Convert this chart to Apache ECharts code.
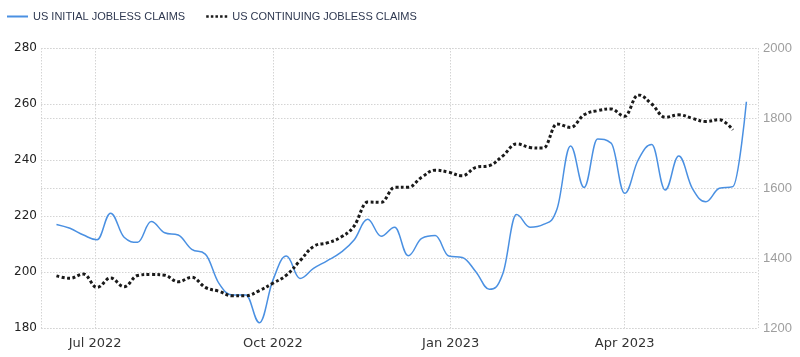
<!DOCTYPE html>
<html>
<head>
<meta charset="utf-8">
<script src="https://cdn.jsdelivr.net/npm/echarts@6/dist/echarts.min.js"></script>
<style>
html,body{margin:0;padding:0;background:#fff;}
#chart{width:800px;height:357px;}
</style>
</head>
<body>
<div id="chart"></div>
<script>
const weeks = [
  '2022-06-11','2022-06-18','2022-06-25','2022-07-02','2022-07-09','2022-07-16','2022-07-23','2022-07-30',
  '2022-08-06','2022-08-13','2022-08-20','2022-08-27','2022-09-03','2022-09-10','2022-09-17','2022-09-24',
  '2022-10-01','2022-10-08','2022-10-15','2022-10-22','2022-10-29','2022-11-05','2022-11-12','2022-11-19',
  '2022-11-26','2022-12-03','2022-12-10','2022-12-17','2022-12-24','2022-12-31','2023-01-07','2023-01-14',
  '2023-01-21','2023-01-28','2023-02-04','2023-02-11','2023-02-18','2023-02-25','2023-03-04','2023-03-11',
  '2023-03-18','2023-03-25','2023-04-01','2023-04-08','2023-04-15','2023-04-22','2023-04-29','2023-05-06',
  '2023-05-13','2023-05-20','2023-05-27','2023-06-03'
];
const initialClaims = [
  217.0, 215.6, 213.2, 211.5, 221.0, 212.4, 210.6, 218.0,
  214.0, 213.2, 208.1, 206.4, 196.0, 191.8, 191.8, 181.9,
  197.1, 205.7, 197.7, 201.3, 204.0, 206.9, 211.4, 218.8,
  212.8, 216.0, 205.8, 212.0, 213.0, 205.7, 205.2, 200.1,
  193.8, 199.5, 220.5, 216.0, 217.0, 222.5, 245.0, 230.2,
  247.5, 246.0, 228.1, 240.0, 245.5, 229.3, 241.4, 229.9,
  225.1, 229.9, 230.5, 260.8
];
const continuingClaims = [
  1349, 1342, 1354, 1316, 1343, 1318, 1350, 1353,
  1351, 1332, 1345, 1316, 1305, 1292, 1292, 1307,
  1328, 1351, 1392, 1433, 1443, 1459, 1491, 1560,
  1559, 1602, 1602, 1631, 1651, 1645, 1635, 1659,
  1664, 1692, 1726, 1716, 1714, 1783, 1773, 1809,
  1821, 1826, 1805, 1866, 1840, 1802, 1809, 1799,
  1790, 1795, 1766
];
const seriesNames = ['US INITIAL JOBLESS CLAIMS', 'US CONTINUING JOBLESS CLAIMS'];
const monthNames = ['Jan','Feb','Mar','Apr','May','Jun','Jul','Aug','Sep','Oct','Nov','Dec'];
const xMin = '2022-06-03';
const xMax = '2023-06-09';

const times = weeks.map(d => +echarts.time.parse(d));
const initialData = initialClaims.map((v, i) => [times[i], v]);
const continuingData = continuingClaims.map((v, i) => [times[i], v]);

// Highcharts-style spline path through pixel points (no overshoot)
function splinePath(pts) {
  const s = 1.5, den = 2.5;
  let d = 'M' + pts[0][0].toFixed(2) + ',' + pts[0][1].toFixed(2);
  let prevRight = null;
  for (let i = 1; i < pts.length; i++) {
    const x = pts[i][0], y = pts[i][1];
    let lx = x, ly = y, rx = null, ry = null;
    if (i < pts.length - 1) {
      const px = pts[i - 1][0], py = pts[i - 1][1];
      const nx = pts[i + 1][0], ny = pts[i + 1][1];
      lx = (s * x + px) / den; ly = (s * y + py) / den;
      rx = (s * x + nx) / den; ry = (s * y + ny) / den;
      let corr = 0;
      if (rx !== lx) corr = ((ry - ly) * (rx - x)) / (rx - lx) + y - ry;
      ly += corr; ry += corr;
      if (ly > py && ly > y) { ly = Math.max(py, y); ry = 2 * y - ly; }
      else if (ly < py && ly < y) { ly = Math.min(py, y); ry = 2 * y - ly; }
      if (ry > ny && ry > y) { ry = Math.max(ny, y); ly = 2 * y - ry; }
      else if (ry < ny && ry < y) { ry = Math.min(ny, y); ly = 2 * y - ry; }
    }
    const c1 = prevRight || pts[i - 1];
    d += ' C' + [c1[0], c1[1], lx, ly, x, y].map(v => v.toFixed(2)).join(',');
    prevRight = rx === null ? null : [rx, ry];
  }
  return d;
}

function makeRenderer(data, stroke, lineWidth, dash) {
  return function (params, api) {
    if (params.dataIndex !== 0) return null;
    const pts = data.map(p => api.coord(p));
    return {
      type: 'path',
      shape: {pathData: splinePath(pts)},
      style: {fill: 'none', stroke: stroke, lineWidth: lineWidth, lineDash: dash},
      silent: true
    };
  };
}

const blue = '#4a90e2';
const dark = '#1a1a1a';

const chart = echarts.init(document.getElementById('chart'), null, {renderer: 'canvas'});
const gridLine = {show: true, lineStyle: {color: '#d4d4d4', type: [1.5, 1.5], width: 1}};
chart.setOption({
  animation: false,
  backgroundColor: '#fff',
  legend: {
    left: 2, top: 6,
    itemGap: 21, itemWidth: 21, itemHeight: 3,
    symbolKeepAspect: true,
    textStyle: {fontFamily: 'Liberation Sans, Arial, sans-serif', fontSize: 11, color: '#2e3850'},
    data: [
      {name: seriesNames[0], icon: 'path://M0 0h21v2h-21z', itemStyle: {color: blue}},
      {name: seriesNames[1], icon: 'path://M0 0h2.5v2.5h-2.5z M4.6 0h2.5v2.5h-2.5z M9.2 0h2.5v2.5h-2.5z M13.8 0h2.5v2.5h-2.5z M18.4 0h2.5v2.5h-2.5z', itemStyle: {color: dark}}
    ]
  },
  grid: {left: 41, right: 42, top: 48, bottom: 29, containLabel: false},
  xAxis: {
    type: 'time',
    min: xMin, max: xMax,
    splitNumber: 4,
    minInterval: 88 * 86400000,
    maxInterval: 93 * 86400000,
    axisLine: {show: false},
    axisTick: {show: false},
    splitLine: gridLine,
    axisLabel: {
      fontFamily: 'DejaVu Sans, Verdana, sans-serif', fontSize: 13, color: '#333', margin: 9,
      formatter: function (v) { const d = new Date(v); return monthNames[d.getMonth()] + ' ' + d.getFullYear(); }
    }
  },
  yAxis: [
    {
      type: 'value', min: 180, max: 280, interval: 20, position: 'left',
      axisLine: {show: false}, axisTick: {show: false},
      splitLine: gridLine,
      axisLabel: {fontFamily: 'DejaVu Sans, Verdana, sans-serif', fontSize: 12, color: '#222', margin: 4}
    },
    {
      type: 'value', min: 1200, max: 2000, interval: 200, position: 'right',
      axisLine: {show: false}, axisTick: {show: false},
      splitLine: gridLine,
      axisLabel: {fontFamily: 'Liberation Sans, Arial, sans-serif', fontSize: 13, color: '#9e9e9e', margin: 5,
        formatter: function (v) { return String(v); }}
    }
  ],
  series: [
    {
      name: seriesNames[0], type: 'custom', yAxisIndex: 0, data: initialData,
      itemStyle: {color: blue},
      renderItem: makeRenderer(initialData, blue, 1.5, null)
    },
    {
      name: seriesNames[1], type: 'custom', yAxisIndex: 1, data: continuingData,
      itemStyle: {color: dark},
      renderItem: makeRenderer(continuingData, dark, 3, [3, 2.4])
    }
  ]
});
</script>
</body>
</html>
